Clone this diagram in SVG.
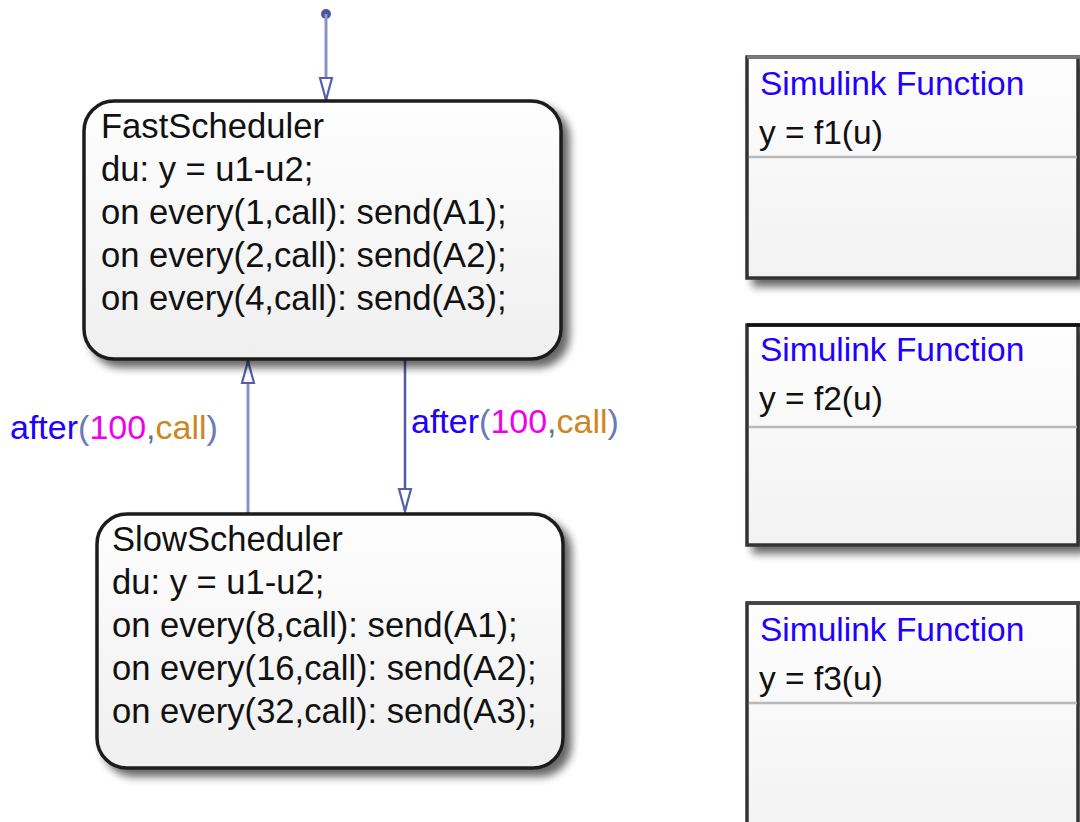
<svg xmlns="http://www.w3.org/2000/svg" width="1080" height="822" viewBox="0 0 1080 822">
  <style>
    .stateText { font-family: "Liberation Sans", Arial, sans-serif; font-size: 34.6px; fill: #111111; }
    .fnTitle { font-family: "Liberation Sans", Arial, sans-serif; font-size: 33.5px; fill: #2200ff; }
    .fnSig { font-family: "Liberation Sans", Arial, sans-serif; font-size: 33.5px; fill: #111111; }
    .label { font-family: "Liberation Sans", Arial, sans-serif; font-size: 34px; }
    .kw { fill: #2000ff; }
    .par { fill: #6a7ab8; }
    .num { fill: #ee00ee; }
    .cm { fill: #607090; }
    .ev { fill: #cc8622; }
    .state { fill: url(#stateFill); stroke: #1c1c1c; stroke-width: 3.5; }
    .fn { fill: url(#fnFill); stroke: #333333; stroke-width: 3.5; }
    .divider { stroke: #b8b8b8; stroke-width: 2.5; }
    .trans { stroke: #4f5aa2; stroke-width: 2.5; fill: none; }
    .transLight { stroke: #8a92c6; stroke-width: 3; fill: none; }
  </style>
  <defs>
    <linearGradient id="stateFill" x1="0" y1="0" x2="0" y2="1">
      <stop offset="0" stop-color="#fefefe"/>
      <stop offset="1" stop-color="#efefef"/>
    </linearGradient>
    <linearGradient id="fnFill" x1="0" y1="0" x2="0" y2="1">
      <stop offset="0" stop-color="#fefefe"/>
      <stop offset="1" stop-color="#f2f2f2"/>
    </linearGradient>
    <filter id="shadow" x="-10%" y="-10%" width="130%" height="130%">
      <feGaussianBlur in="SourceAlpha" stdDeviation="4"/>
      <feOffset dx="7" dy="7" result="b"/>
      <feComponentTransfer><feFuncA type="linear" slope="0.6"/></feComponentTransfer>
      <feMerge><feMergeNode/><feMergeNode in="SourceGraphic"/></feMerge>
    </filter>
    <marker id="openArrow" markerUnits="userSpaceOnUse" markerWidth="30" markerHeight="20" refX="23" refY="8" orient="auto" viewBox="0 0 30 20">
      <path d="M1,2 L23,8 L1,14 Z" fill="#ffffff" stroke="#5560a8" stroke-width="2.2" stroke-linejoin="miter"/>
    </marker>
  </defs>

  <!-- connectors -->
  <g id="connectors">
    <g id="default-transition">
      <circle cx="326" cy="14" r="5" fill="#4a55a0"/>
      <line class="transLight" x1="326" y1="14" x2="326" y2="100" marker-end="url(#openArrow)"/>
    </g>
    <g id="slow-to-fast">
      <line class="transLight" x1="248" y1="513" x2="248" y2="361" marker-end="url(#openArrow)"/>
      <text class="label" x="10" y="439"><tspan class="kw">after</tspan><tspan class="par">(</tspan><tspan class="num">100</tspan><tspan class="cm">,</tspan><tspan class="ev">call</tspan><tspan class="par">)</tspan></text>
    </g>
    <g id="fast-to-slow">
      <line class="trans" x1="405" y1="359" x2="405" y2="511" marker-end="url(#openArrow)"/>
      <text class="label" x="411" y="433"><tspan class="kw">after</tspan><tspan class="par">(</tspan><tspan class="num">100</tspan><tspan class="cm">,</tspan><tspan class="ev">call</tspan><tspan class="par">)</tspan></text>
    </g>
  </g>

  <g id="FastScheduler">
    <rect class="state" x="84" y="101" width="477" height="258" rx="30" ry="30" filter="url(#shadow)"/>
    <text class="stateText" x="101" y="138">FastScheduler</text>
    <text class="stateText" x="101" y="181">du: y = u1-u2;</text>
    <text class="stateText" x="101" y="224">on every(1,call): send(A1);</text>
    <text class="stateText" x="101" y="267">on every(2,call): send(A2);</text>
    <text class="stateText" x="101" y="310">on every(4,call): send(A3);</text>
  </g>

  <g id="SlowScheduler">
    <rect class="state" x="97" y="514" width="466" height="254" rx="30" ry="30" filter="url(#shadow)"/>
    <text class="stateText" x="112" y="551">SlowScheduler</text>
    <text class="stateText" x="112" y="594">du: y = u1-u2;</text>
    <text class="stateText" x="112" y="637">on every(8,call): send(A1);</text>
    <text class="stateText" x="112" y="680">on every(16,call): send(A2);</text>
    <text class="stateText" x="112" y="723">on every(32,call): send(A3);</text>
  </g>

  <g id="f1">
    <rect class="fn" x="747" y="57" width="331" height="221" filter="url(#shadow)"/>
    <line x1="747" y1="57" x2="1080" y2="57" stroke="#7a7a7a" stroke-width="3.5"/>
    <line class="divider" x1="749" y1="157" x2="1077" y2="157"/>
    <text class="fnTitle" x="760" y="95">Simulink Function</text>
    <text class="fnSig" x="759" y="144">y = f1(u)</text>
  </g>

  <g id="f2">
    <rect class="fn" x="747" y="325" width="331" height="220" filter="url(#shadow)"/>
    <line x1="747" y1="325" x2="1080" y2="325" stroke="#111111" stroke-width="3.5"/>
    <line class="divider" x1="749" y1="427" x2="1077" y2="427"/>
    <text class="fnTitle" x="760" y="361">Simulink Function</text>
    <text class="fnSig" x="759" y="410">y = f2(u)</text>
  </g>

  <g id="f3">
    <rect class="fn" x="747" y="603" width="331" height="240"/>
    <line x1="747" y1="603" x2="1080" y2="603" stroke="#444444" stroke-width="3.5"/>
    <line class="divider" x1="749" y1="703" x2="1077" y2="703"/>
    <text class="fnTitle" x="760" y="641">Simulink Function</text>
    <text class="fnSig" x="759" y="690">y = f3(u)</text>
  </g>
</svg>
